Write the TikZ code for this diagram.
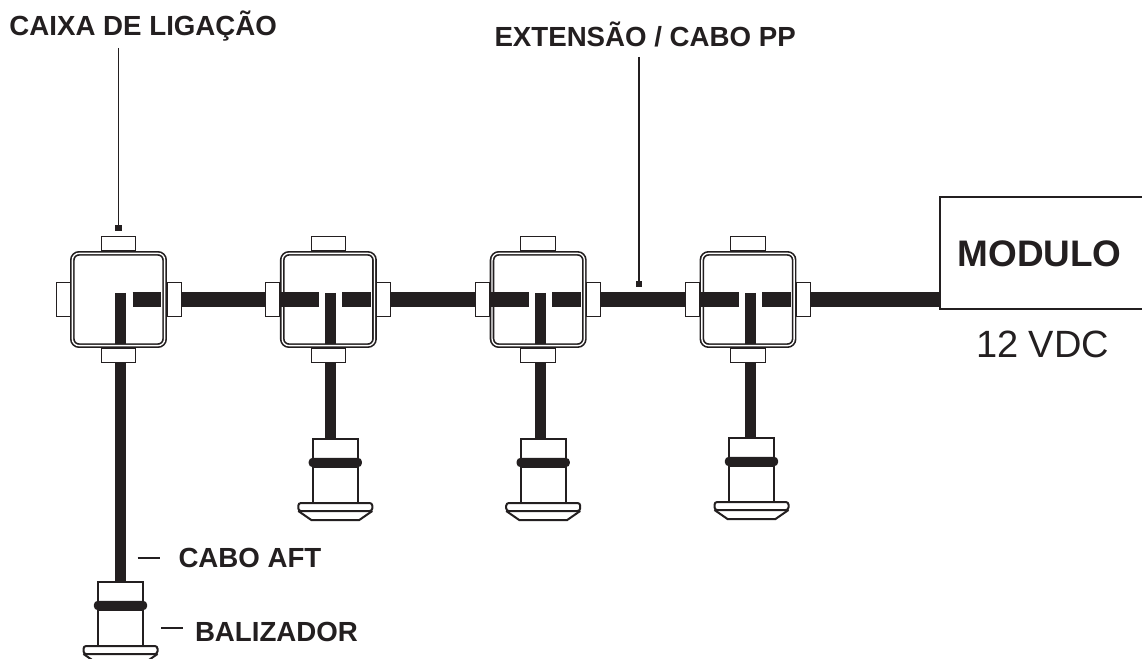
\documentclass[tikz,border=0pt]{standalone}
\usepackage{fontspec}
\setmainfont{Liberation Sans}
\usetikzlibrary{positioning, calc}
\definecolor{inkblack}{RGB}{35, 31, 32}
\tikzset{
  tabh/.style={draw=inkblack, fill=white, line width=0.75pt, inner sep=0pt, outer sep=0pt, minimum width=26pt, minimum height=10.5pt},
  tabv/.style={draw=inkblack, fill=white, line width=0.75pt, inner sep=0pt, outer sep=0pt, minimum width=10.5pt, minimum height=26pt},
  boxshell/.style={draw=inkblack, fill=white, line width=1.25pt, double=white, double distance=1pt, rounded corners=5pt, inner sep=0pt, outer sep=0pt, minimum size=69.2pt},
  wire/.style={draw=inkblack, line width=11.25pt},
  stem/.style={draw=inkblack, line width=8.25pt},
  leader/.style={draw=inkblack, line width=1pt},
  pointer/.style={fill=inkblack, inner sep=0pt, outer sep=0pt, minimum size=5pt},
  tagtext/.style={text=inkblack, inner sep=0pt, outer sep=0pt, anchor=base west, font=\fontsize{20.75}{24}\selectfont\bfseries},
  lampbody/.style={draw=inkblack, fill=white, line width=1.5pt, inner sep=0pt, outer sep=0pt, minimum width=34pt},
  lampring/.style={fill=inkblack, rounded corners=3pt, inner sep=0pt, outer sep=0pt, minimum width=40pt, minimum height=7pt},
  moduleshell/.style={draw=inkblack, fill=white, line width=2pt, inner sep=0pt, outer sep=0pt, minimum width=157.5pt, minimum height=84pt},
  caixa/.pic={
    \node[tabh] (-n) at (0, -55.5) {};
    \node[tabh] (-s) at (0, 55.5) {};
    \node[tabv] (-w) at (-55.5, 0) {};
    \node[tabv] (-e) at (55.5, 0) {};
    \node[boxshell] (-box) at (0, 0) {};
    \coordinate (-hub) at (2, -6.5);
    \coordinate (-foot) at (2, 44);
    \coordinate (-wl) at (-47.5, 0);
    \coordinate (-wr) at (-9.5, 0);
    \coordinate (-el) at (14, 0);
    \coordinate (-er) at (42.5, 0);
  },
  balizador/.pic={
    \node[lampbody, minimum height=14.5pt] (-cap) at (0, 10) {};
    \node[lampbody, minimum height=27pt] (-body) at (0, 45.5) {};
    \node[lampring] (-ring) at (0, 23.5) {};
    \draw[inkblack, fill=white, line width=1.5pt] (-37, 72) -- (-24, 81) -- (24, 81) -- (37, 72);
    \node[lampbody, rounded corners=2pt, minimum width=55.5pt, minimum height=6pt] (-lip) at (0, 68) {};
  }
}

\begin{document}
\begin{tikzpicture}[x=0.75pt, y=-0.75pt]
  \clip[use as bounding box] (0, 0) rectangle (1142, 659);

  % Junction boxes
  \pic (cx1) at (118.5, 299.5) {caixa};
  \pic (cx2) at (328.4, 299.5) {caixa};
  \pic (cx3) at (538.2, 299.5) {caixa};
  \pic (cx4) at (748, 299.5) {caixa};

  % Lamps
  \pic (bz1) at (120.5, 582) {balizador};
  \pic (bz2) at (335.3, 439) {balizador};
  \pic (bz3) at (543.2, 439) {balizador};
  \pic (bz4) at (751.5, 438) {balizador};

  % Module
  \node[moduleshell] (modulo) at (1045, 253) {};
  \node[tagtext, font=\fontsize{27.7}{30}\selectfont\bfseries] (modulotxt) at (957.5, 267) {MODULO};
  \node[tagtext, font=\fontsize{28.5}{32}\selectfont] (vdctxt) at (976, 357) {12 VDC};

  % Cables between boxes
  \draw[wire] (cx1-e.east) -- (cx2-w.west);
  \draw[wire] (cx2-e.east) -- (cx3-w.west);
  \draw[wire] (cx3-e.east) -- (cx4-w.west);
  \draw[wire] (cx4-e.east) -- (cx4-e.east -| modulo.west);

  % Cables inside the boxes
  \draw[wire] (cx1-el) -- (cx1-er);
  \draw[wire] (cx2-wl) -- (cx2-wr);
  \draw[wire] (cx2-el) -- (cx2-er);
  \draw[wire] (cx3-wl) -- (cx3-wr);
  \draw[wire] (cx3-el) -- (cx3-er);
  \draw[wire] (cx4-wl) -- (cx4-wr);
  \draw[wire] (cx4-el) -- (cx4-er);
  \draw[stem] (cx1-hub) -- (cx1-foot);
  \draw[stem] (cx2-hub) -- (cx2-foot);
  \draw[stem] (cx3-hub) -- (cx3-foot);
  \draw[stem] (cx4-hub) -- (cx4-foot);

  % Cables down to the lamps
  \draw[stem] (cx1-foot |- cx1-s.south) -- (cx1-foot |- bz1-cap.north);
  \draw[stem] (cx2-foot |- cx2-s.south) -- (cx2-foot |- bz2-cap.north);
  \draw[stem] (cx3-foot |- cx3-s.south) -- (cx3-foot |- bz3-cap.north);
  \draw[stem] (cx4-foot |- cx4-s.south) -- (cx4-foot |- bz4-cap.north);

  % Labels and their leaders
  \node[tagtext] (caixatxt) at (9.5, 36) {CAIXA DE LIGAÇÃO};
  \node[pointer] (caixapt) at (118.5, 228) {};
  \coordinate (caixatop) at (118.5, 48);
  \draw[leader] (caixatop) -- (caixapt);

  \node[tagtext] (extensaotxt) at (494.5, 47) {EXTENSÃO / CABO PP};
  \node[pointer] (extensaopt) at (639, 284) {};
  \coordinate (extensaotop) at (639, 57);
  \draw[leader] (extensaotop) -- (extensaopt);

  \node[tagtext] (afttxt) at (178.5, 567) {CABO AFT};
  \coordinate (afta) at (137.5, 558);
  \coordinate (aftb) at (160, 558);
  \draw[leader] (afta) -- (aftb);

  \node[tagtext] (baltxt) at (195, 641) {BALIZADOR};
  \coordinate (bala) at (161, 628);
  \coordinate (balb) at (183, 628);
  \draw[leader] (bala) -- (balb);
\end{tikzpicture}
\end{document}
